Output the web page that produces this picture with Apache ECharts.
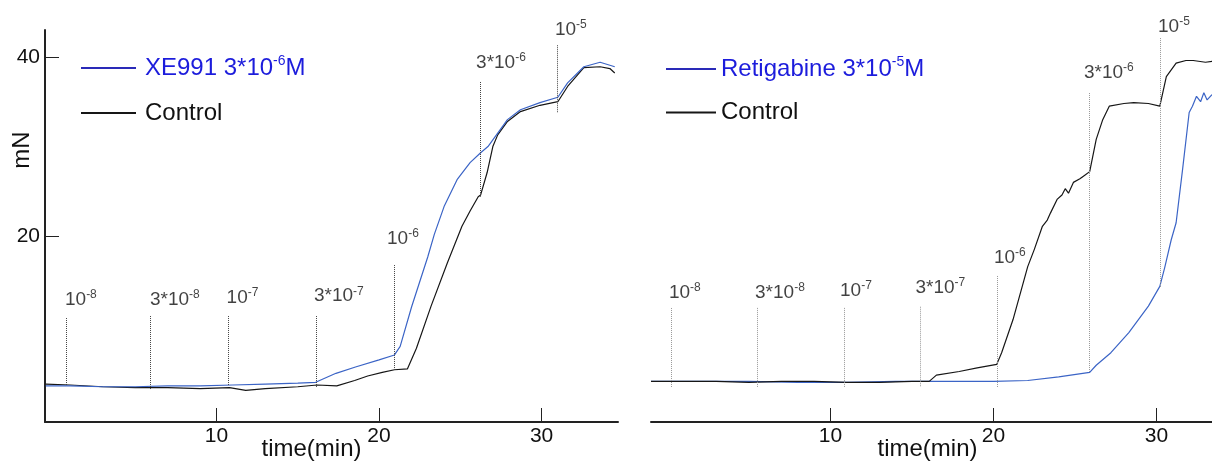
<!DOCTYPE html>
<html><head><meta charset="utf-8">
<script src="https://cdn.jsdelivr.net/npm/echarts@6/dist/echarts.min.js"></script>
<style>html,body{margin:0;padding:0;background:#fff}#c{width:1212px;height:465px}</style>
</head><body><div id="c"></div>
<script>
// ---- data (time in min, force in mN) ----
const xe991Trace = [[-0.5,3.3],[1,3.3],[3,3.2],[5,3.2],[7,3.3],[9,3.3],[11,3.4],[13,3.5],[15,3.6],[16.1,3.7],[17.35,4.7],[18.55,5.4],[20.0,6.2],[20.95,6.75],[21.3,7.7],[22.0,12.1],[23.0,17.7],[23.4,20.2],[24.0,23.3],[24.8,26.3],[25.6,28.2],[26.25,29.3],[26.7,30.0],[27.3,31.5],[27.9,33.0],[28.7,34.1],[29.9,34.9],[31.0,35.5],[31.6,37.1],[32.6,38.9],[33.6,39.4],[34.5,38.9]];
const xe991Control = [[-0.5,3.5],[1,3.4],[3,3.2],[5,3.1],[7,3.1],[9,3.0],[10.8,3.1],[11.8,2.8],[13,3.0],[15,3.2],[16.2,3.4],[17.4,3.3],[18.5,3.9],[19.3,4.4],[20.2,4.8],[20.95,5.1],[21.75,5.2],[22.3,7.5],[23.2,12.2],[24.2,17.0],[25.1,21.1],[25.6,22.8],[26.1,24.4],[26.25,24.6],[26.65,27.1],[27.0,30.0],[27.3,31.3],[27.9,32.8],[28.7,33.9],[29.9,34.6],[31.0,35.0],[31.6,36.7],[32.6,38.8],[33.6,38.9],[34.2,38.7],[34.5,38.2]];
const retigabineTrace = [[-1,3.8],[2,3.8],[5,3.8],[8,3.7],[11,3.7],[14,3.8],[17,3.8],[20,3.8],[22.1,3.9],[24,4.3],[25.9,4.8],[26.3,5.6],[27.2,7.0],[28.3,9.25],[29.5,12.2],[30.2,14.4],[30.5,16.5],[30.9,19.6],[31.2,21.5],[31.6,27.5],[32.0,33.8],[32.2,34.5],[32.45,35.6],[32.7,35.0],[32.9,36.0],[33.1,35.2],[33.4,35.8]];
const retigabineControl = [[-1,3.8],[1,3.8],[3,3.8],[5,3.7],[7,3.8],[9,3.8],[11,3.7],[13,3.7],[15,3.8],[16.06,3.8],[16.5,4.5],[17.9,4.9],[19,5.3],[20.2,5.7],[20.5,7.0],[21.2,10.7],[22.1,16.6],[22.5,18.5],[23.0,21.1],[23.3,21.8],[23.5,22.6],[23.9,24.1],[24.2,24.6],[24.4,25.3],[24.6,24.8],[24.9,26.0],[25.3,26.4],[25.6,26.8],[25.9,27.2],[26.3,30.8],[26.7,33.0],[27.1,34.5],[28.0,34.8],[28.6,34.9],[29.5,34.8],[30.2,34.5],[30.6,37.8],[31.2,39.3],[31.8,39.6],[32.25,39.6],[33.0,39.4],[33.4,39.5]];

const doseBase = ['10','3*10','10','3*10','10','3*10','10'];
const doseExp = ['-8','-8','-7','-7','-6','-6','-5'];
const leftDoseTimes = [0.74,5.91,10.74,16.12,20.92,26.21,30.99];
const leftDoseTop = [10.87,11.09,11.09,11.09,16.78,37.2,41.3];
const leftDoseBottom = [3.29,2.84,3.29,3.18,5.07,24.4,33.74];
const leftLabelTimes = [0.68,5.91,10.62,16.0,20.49,25.97,30.82];
const leftLabelValues = [12.9,12.9,13.1,13.3,19.7,39.4,43.0];
const rightDoseTimes = [0.27,5.52,10.87,15.50,20.26,25.88,30.21];
const rightDoseTop = [11.99,12.0,12.0,12.13,15.56,35.97,42.1];
const rightDoseBottom = [3.17,3.17,3.17,3.17,3.17,4.74,14.33];
const rightLabelTimes = [0.10,5.38,10.59,15.22,20.03,25.55,30.09];
const rightLabelValues = [13.66,13.66,13.88,14.22,17.57,38.2,43.34];

const xTicks = [10,20,30];
const yTicks = [20,40];
const legendLeft = ['XE991 3*10^-6M','Control'];
const legendRight = ['Retigabine 3*10^-5M','Control'];

// ---- styling ----
const FONT = '"Liberation Sans", Arial, sans-serif';
const BLUE = '#3b64c6';
const BLACK = '#161616';

function doseMarkLines(times, tops, bottoms){
  return times.map((t,i)=>[{coord:[t,tops[i]]},{coord:[t,bottoms[i]]}]);
}
function doseLabelData(times, vals){
  return times.map((t,i)=>({value:[t,vals[i]], name:i}));
}
function doseFormatter(p){
  const i = p.data.name;
  return '{b|'+doseBase[i]+'}{s|'+doseExp[i]+'}';
}
const doseRich = {
  b:{fontSize:19,color:'#111',fontFamily:FONT},
  s:{fontSize:12,color:'#111',fontFamily:FONT,padding:[0,0,10,0]}
};
function legendFmt(name){
  const m = name.match(/^(.*)\^(-\d)(M)$/);
  if(m) return '{b|'+m[1]+'}{bs|'+m[2]+'}{b|'+m[3]+'}';
  return '{k|'+name+'}';
}
const legendRich = {
  b:{fontSize:24,color:'#1c1cdc',fontFamily:FONT},
  bs:{fontSize:14,color:'#1c1cdc',fontFamily:FONT,padding:[0,0,14,0]},
  k:{fontSize:24,color:'#111',fontFamily:FONT}
};

function xAxisCfg(idx,min,max,namePad){
  return {
    type:'value', gridIndex:idx, min:min, max:max,
    name:'time(min)', nameLocation:'middle', nameGap:15, nameMoveOverlap:false,
    nameTextStyle:{fontSize:24,color:'#111',fontFamily:FONT,padding:namePad},
    axisLine:{show:true,onZero:false,lineStyle:{color:'#222',width:2}},
    axisTick:{show:true,inside:true,length:14,customValues:xTicks,lineStyle:{color:'#222',width:1}},
    axisLabel:{show:true,customValues:xTicks,fontSize:21,color:'#111',fontFamily:FONT,margin:4},
    splitLine:{show:false}
  };
}

const chart = echarts.init(document.getElementById('c'), null, {renderer:'canvas'});
chart.setOption({
  animation:false,
  backgroundColor:'#fff',
  grid:[
    {left:45, top:30, width:573, height:392, outerBoundsMode:'none', containLabel:false},
    {left:651, top:30, width:561, height:392, outerBoundsMode:'none', containLabel:false}
  ],
  xAxis:[ xAxisCfg(0,-0.55,34.7,[0,40,0,0]), xAxisCfg(1,-1.0,33.4,[0,8,0,0]) ],
  yAxis:[
    {type:'value', gridIndex:0, min:-0.73, max:43,
     axisLine:{show:true,onZero:false,lineStyle:{color:'#222',width:2}},
     axisTick:{show:true,inside:true,length:14,customValues:yTicks,lineStyle:{color:'#222',width:1}},
     axisLabel:{show:true,customValues:yTicks,fontSize:21,color:'#111',fontFamily:FONT,margin:5},
     splitLine:{show:false}},
    {type:'value', gridIndex:1, min:-0.73, max:43, show:false, splitLine:{show:false}}
  ],
  legend:[
    {left:76, top:49, orient:'vertical', itemGap:21, itemWidth:55, itemHeight:2, icon:'rect',
     formatter:legendFmt, textStyle:{rich:legendRich, padding:[0,0,0,4]},
     selectedMode:false,
     data:[{name:legendLeft[0], itemStyle:{color:'#2a2ab8'}},{name:legendLeft[1], itemStyle:{color:BLACK}}]},
    {left:661, top:50, orient:'vertical', itemGap:19.5, itemWidth:50, itemHeight:2, icon:'rect',
     formatter:legendFmt, textStyle:{rich:legendRich, padding:[0,0,0,0]},
     selectedMode:false,
     data:[{name:legendRight[0], itemStyle:{color:'#2a2ab8'}},{name:legendRight[1], itemStyle:{color:BLACK}}]}
  ],
  graphic:[{type:'text', x:22, y:150, rotation:Math.PI/2,
    style:{text:'mN', font:'24px '+FONT, fill:'#111', align:'center', verticalAlign:'middle'}}],
  series:[
    {name:legendLeft[1], type:'line', xAxisIndex:0, yAxisIndex:0, data:xe991Control, showSymbol:false,
     color:BLACK, lineStyle:{color:BLACK,width:1.2}},
    {name:legendLeft[0], type:'line', xAxisIndex:0, yAxisIndex:0, data:xe991Trace, showSymbol:false,
     color:BLUE, lineStyle:{color:BLUE,width:1.2}},
    {name:legendRight[0], type:'line', xAxisIndex:1, yAxisIndex:1, data:retigabineTrace, showSymbol:false,
     color:BLUE, lineStyle:{color:BLUE,width:1.2}},
    {name:legendRight[1], type:'line', xAxisIndex:1, yAxisIndex:1, data:retigabineControl, showSymbol:false,
     color:BLACK, lineStyle:{color:BLACK,width:1.2}},
    {type:'scatter', xAxisIndex:0, yAxisIndex:0, symbolSize:0, clip:false, silent:true,
     data:doseLabelData(leftLabelTimes,leftLabelValues),
     label:{show:true, position:'right', distance:0, color:'#111', formatter:doseFormatter, rich:doseRich},
     markLine:{silent:true, symbol:['none','none'], label:{show:false},
       lineStyle:{type:'dotted', color:'#444', width:1},
       data:doseMarkLines(leftDoseTimes,leftDoseTop,leftDoseBottom)}},
    {type:'scatter', xAxisIndex:1, yAxisIndex:1, symbolSize:0, clip:false, silent:true,
     data:doseLabelData(rightLabelTimes,rightLabelValues),
     label:{show:true, position:'right', distance:0, color:'#111', formatter:doseFormatter, rich:doseRich},
     markLine:{silent:true, symbol:['none','none'], label:{show:false},
       lineStyle:{type:'dotted', color:'#999', width:1},
       data:doseMarkLines(rightDoseTimes,rightDoseTop,rightDoseBottom)}}
  ]
});
</script></body></html>
